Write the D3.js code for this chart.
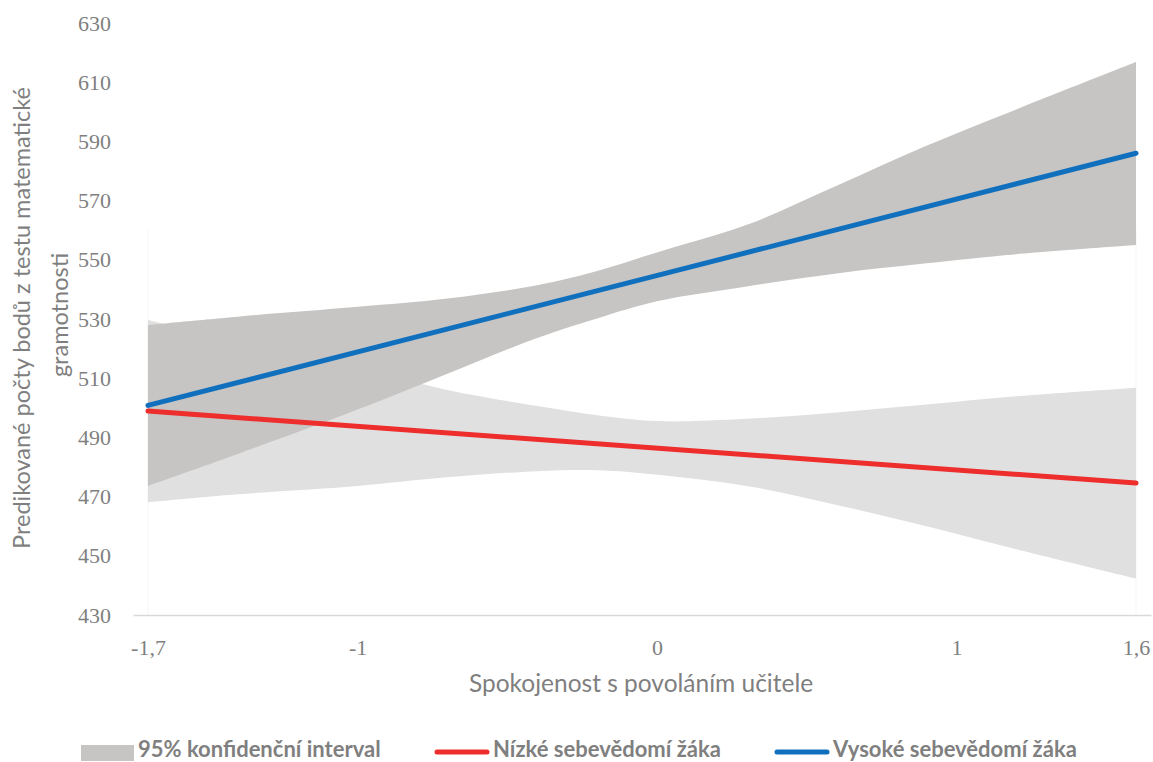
<!DOCTYPE html>
<html>
<head>
<meta charset="utf-8">
<script src="https://cdn.jsdelivr.net/npm/d3@7/dist/d3.min.js"></script>
<style>
  html, body { margin: 0; padding: 0; background: #fff; }
  svg { display: block; }
</style>
</head>
<body>
<svg id="chart" width="1153" height="762"></svg>
<script>
// ---- Data ----
const bandX = [-1.7, -1.4, -1.0, -0.7, -0.4, -0.2, 0, 0.3, 0.6, 0.9, 1.2, 1.6];
// High self-efficacy 95% CI
const highUpper = [528.0, 530.8, 534.1, 536.9, 541.4, 546.2, 552.5, 561.8, 575.0, 588.5, 600.8, 616.8];
const highLower = [473.6, 484.4, 499.4, 511.5, 523.6, 530.2, 536.0, 541.0, 545.4, 548.8, 551.9, 555.0];
// Low self-efficacy 95% CI
const lowUpper  = [529.7, 522.5, 513.5, 506.0, 500.6, 497.5, 495.5, 496.3, 498.4, 501.1, 503.9, 506.8];
const lowLower  = [468.1, 470.8, 473.6, 476.5, 478.6, 478.9, 477.4, 473.6, 467.2, 460.0, 452.2, 442.3];
// Predicted lines
const lineX = [-1.7, 1.6];
const lowLine  = [498.9, 474.6];
const highLine = [500.8, 586.0];
// Axes
const xTickValues = [-1.7, -1, 0, 1, 1.6];
const xTickLabels = ["-1,7", "-1", "0", "1", "1,6"];
const yTickValues = [430, 450, 470, 490, 510, 530, 550, 570, 590, 610, 630];
const legendLabels = ["95% konfidenční interval", "Nízké sebevědomí žáka", "Vysoké sebevědomí žáka"];
const xTitle = "Spokojenost s povoláním učitele";
const yTitleLines = ["Predikované počty bodů z testu matematické", "gramotnosti"];

// ---- Setup ----
const svg = d3.select("#chart");
const x = d3.scaleLinear().domain([-1.75, 1.65]).range([133, 1151]);
const y = d3.scaleLinear().domain([430, 630]).range([615, 23]);

const colors = { bandHigh: "#c6c5c3", bandLow: "#e0e0e0", red: "#ee2d2d", blue: "#1170be", text: "#7f7f7f" };
const serif = "'Liberation Serif', 'Times New Roman', serif";
const sans = "Lato, 'Open Sans', 'Liberation Sans', sans-serif";

// faint edges at band ends
[bandX[0], bandX[bandX.length - 1]].forEach(v => {
  svg.append("line").attr("x1", x(v)).attr("x2", x(v))
    .attr("y1", y(430)).attr("y2", y(560))
    .attr("stroke", "#f5f5f5").attr("stroke-width", 1);
});

const area = (up, lo) => d3.area()
  .x((d, i) => x(bandX[i]))
  .y0((d, i) => y(lo[i]))
  .y1((d, i) => y(up[i]))
  .curve(d3.curveCatmullRom.alpha(0.5))(bandX);

svg.append("path").attr("d", area(lowUpper, lowLower)).attr("fill", colors.bandLow);
svg.append("path").attr("d", area(highUpper, highLower)).attr("fill", colors.bandHigh);

// x axis
const xAxis = d3.axisBottom(x).tickValues(xTickValues)
  .tickFormat((d, i) => xTickLabels[i]).tickSize(0).tickPadding(24);
const gx = svg.append("g").attr("transform", `translate(0,${y(430)})`).call(xAxis);
gx.select(".domain").attr("stroke", "#d9d9d9").attr("stroke-width", 1.5);
gx.selectAll("text").attr("font-family", serif).attr("font-size", 22).attr("fill", colors.text);

// y axis
const yAxis = d3.axisLeft(y).tickValues(yTickValues).tickSize(0).tickPadding(22);
const gy = svg.append("g").attr("transform", `translate(${x(-1.75)},0)`).call(yAxis);
gy.select(".domain").remove();
gy.selectAll("text").attr("font-family", serif).attr("font-size", 22).attr("fill", colors.text);

// lines
const line = vals => d3.line().x((d, i) => x(lineX[i])).y((d, i) => y(vals[i]))(lineX);
svg.append("path").attr("d", line(lowLine)).attr("fill", "none")
  .attr("stroke", colors.red).attr("stroke-width", 5).attr("stroke-linecap", "round");
svg.append("path").attr("d", line(highLine)).attr("fill", "none")
  .attr("stroke", colors.blue).attr("stroke-width", 5).attr("stroke-linecap", "round");

// titles
svg.append("text").attr("x", 641).attr("y", 692).attr("text-anchor", "middle")
  .attr("font-family", sans).attr("font-size", 24.5).attr("fill", colors.text).text(xTitle);

const yt = svg.append("g").attr("transform", "translate(0,318) rotate(-90)");
yt.append("text").attr("x", 0).attr("y", 30).attr("text-anchor", "middle")
  .attr("font-family", sans).attr("font-size", 23.5).attr("fill", colors.text).text(yTitleLines[0]);
yt.append("text").attr("x", 3).attr("y", 68).attr("text-anchor", "middle")
  .attr("font-family", sans).attr("font-size", 23.5).attr("fill", colors.text).text(yTitleLines[1]);

// legend
const lg = svg.append("g").attr("font-family", sans).attr("font-weight", "bold")
  .attr("font-size", 22).attr("fill", colors.text);
lg.append("rect").attr("x", 81).attr("y", 745).attr("width", 53).attr("height", 16).attr("fill", colors.bandHigh);
lg.append("text").attr("x", 138).attr("y", 757).text(legendLabels[0]);
lg.append("line").attr("x1", 437).attr("x2", 487).attr("y1", 752).attr("y2", 752)
  .attr("stroke", colors.red).attr("stroke-width", 5).attr("stroke-linecap", "round");
lg.append("text").attr("x", 493).attr("y", 757).text(legendLabels[1]);
lg.append("line").attr("x1", 777).attr("x2", 827).attr("y1", 752).attr("y2", 752)
  .attr("stroke", colors.blue).attr("stroke-width", 5).attr("stroke-linecap", "round");
lg.append("text").attr("x", 833).attr("y", 757).text(legendLabels[2]);
</script>
</body>
</html>
